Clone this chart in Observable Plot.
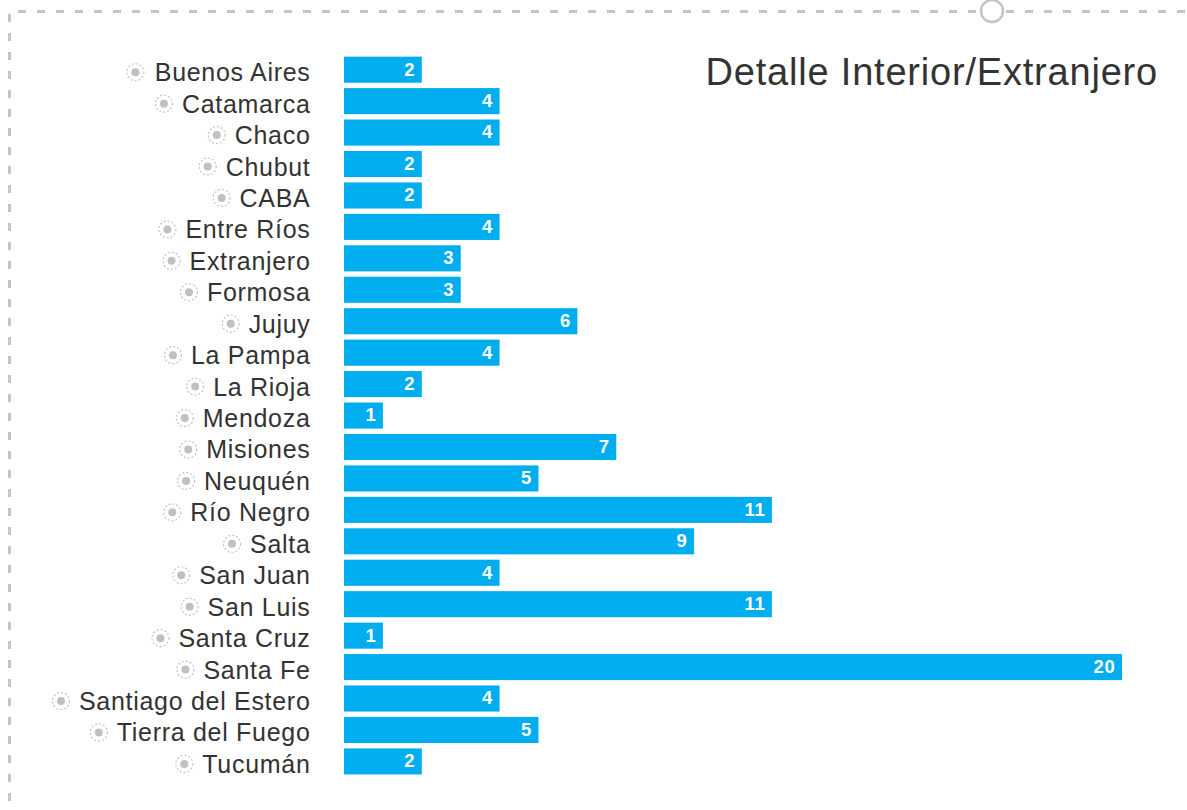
<!DOCTYPE html>
<html>
<head>
<meta charset="utf-8">
<script src="https://cdn.jsdelivr.net/npm/d3@7"></script>
<script src="https://cdn.jsdelivr.net/npm/@observablehq/plot@0.6"></script>
<style>
  html, body { margin: 0; padding: 0; background: #fff; overflow: hidden; }
  #chart { position: relative; width: 1187px; height: 810px; }
</style>
</head>
<body>
<div id="chart"></div>
<script>
const title = "Detalle Interior/Extranjero";
const provincias = ["Buenos Aires","Catamarca","Chaco","Chubut","CABA","Entre Ríos","Extranjero","Formosa","Jujuy","La Pampa","La Rioja","Mendoza","Misiones","Neuquén","Río Negro","Salta","San Juan","San Luis","Santa Cruz","Santa Fe","Santiago del Estero","Tierra del Fuego","Tucumán"];
const cantidades = [2,4,4,2,2,4,3,3,6,4,2,1,7,5,11,9,4,11,1,20,4,5,2];

const W = 1187, H = 810;
const marginLeft = 344, marginRight = 65;
const xMax = 20;
const pxPerUnit = (W - marginLeft - marginRight) / xMax;
const font = "Liberation Sans, Arial, Helvetica, sans-serif";
const labelSize = 25, labelGap = 34, iconGap = 18, ls = 0.7;

const ctx = document.createElement("canvas").getContext("2d");
ctx.font = `${labelSize}px "Liberation Sans"`;

const data = provincias.map((name, i) => {
  const w = ctx.measureText(name).width + ls * name.length;
  const iconPx = marginLeft - labelGap - w - iconGap;
  return { name, value: cantidades[i], icon: (iconPx - marginLeft) / pxPerUnit };
});

const plot = Plot.plot({
  width: W,
  height: H,
  marginLeft,
  marginRight,
  marginTop: 51.3,
  marginBottom: 30.2,
  style: { fontFamily: font, letterSpacing: ls + "px", background: "white", overflow: "visible" },
  x: { domain: [0, xMax], axis: null },
  y: { domain: provincias, axis: null, padding: 0.17, round: false },
  marks: [
    Plot.barX(data, { x: "value", y: "name", fill: "#00AEEF" }),
    Plot.text(data, { x: "value", y: "name", text: d => String(d.value), textAnchor: "end", dx: -7, dy: -0.5, fill: "white", fontWeight: "bold", fontSize: 18.5, style: "letter-spacing:0" }),
    Plot.text(data, { y: "name", frameAnchor: "left", text: "name", textAnchor: "end", dx: -labelGap, dy: 3, fontSize: labelSize, fill: "#333" }),
    Plot.dot(data, { x: "icon", y: "name", r: 8.5, stroke: "#c4c4c4", strokeWidth: 1.2, strokeDasharray: "2,2", fill: "none", dy: 2 }),
    Plot.dot(data, { x: "icon", y: "name", r: 4, fill: "#c0c0c0", stroke: "none", dy: 2 })
  ]
});

const svg = d3.select(plot);
// dashed frame decoration
svg.append("line").attr("x1", 18).attr("x2", W).attr("y1", 11.5).attr("y2", 11.5)
  .attr("stroke", "#c4c4c4").attr("stroke-width", 3).attr("stroke-dasharray", "8,11");
svg.append("line").attr("x1", 9.5).attr("x2", 9.5).attr("y1", 14).attr("y2", H)
  .attr("stroke", "#c4c4c4").attr("stroke-width", 3).attr("stroke-dasharray", "8,11");
svg.append("circle").attr("cx", 992).attr("cy", 11).attr("r", 11)
  .attr("fill", "white").attr("stroke", "#c4c4c4").attr("stroke-width", 2.5);
// title
svg.append("text").attr("x", 1158).attr("y", 85).attr("text-anchor", "end")
  .attr("font-size", 38).attr("fill", "#333").style("letter-spacing", "0.8px")
  .text(title);

document.getElementById("chart").appendChild(plot);
</script>
</body>
</html>
